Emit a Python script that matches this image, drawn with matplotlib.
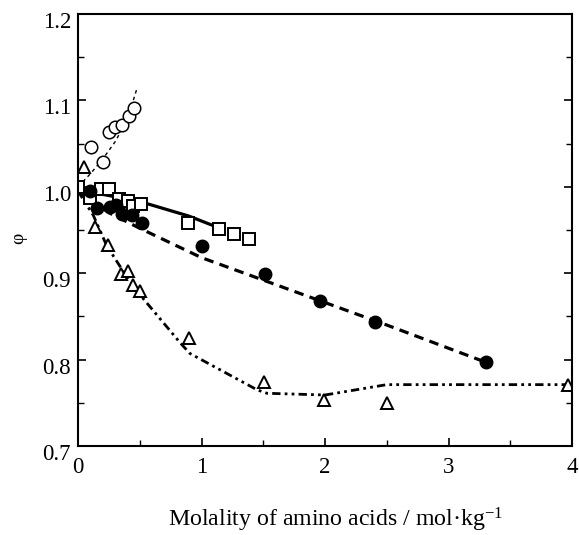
import matplotlib
matplotlib.use("Agg")
import matplotlib.pyplot as plt
import matplotlib.transforms as mtransforms
from matplotlib.ticker import MultipleLocator

plt.rcParams['font.family'] = ['Liberation Serif', 'DejaVu Serif']
plt.rcParams['mathtext.fontset'] = 'custom'
plt.rcParams['mathtext.rm'] = 'Liberation Serif'
plt.rcParams['mathtext.it'] = 'Liberation Serif:italic'
plt.rcParams['mathtext.bf'] = 'Liberation Serif:bold'

# Open circles (dotted line)
oc_x = [0.103, 0.20, 0.253, 0.30, 0.354, 0.413, 0.456]
oc_y = [1.046, 1.029, 1.064, 1.069, 1.072, 1.082, 1.091]
oc_lx = [0.0, 0.1, 0.2, 0.3, 0.4, 0.48]
oc_ly = [1.0, 1.015, 1.032, 1.052, 1.078, 1.115]

# Open squares (solid line)
sq_x = [0.0, 0.097, 0.19, 0.253, 0.335, 0.408, 0.443, 0.51, 0.893, 1.144, 1.266, 1.385]
sq_y = [1.0, 0.987, 0.998, 0.998, 0.986, 0.983, 0.978, 0.980, 0.958, 0.951, 0.945, 0.939]
sq_lx = [0.0, 0.1, 0.5, 0.9, 1.15]
sq_ly = [1.0, 0.994, 0.983, 0.966, 0.952]

# Filled circles (dashed line)
fc_x = [0.097, 0.156, 0.26, 0.308, 0.354, 0.435, 0.516, 1.0, 1.514, 1.96, 2.405, 3.30]
fc_y = [0.995, 0.975, 0.977, 0.979, 0.969, 0.967, 0.958, 0.931, 0.899, 0.868, 0.843, 0.797]
fc_lx = [0.0, 0.25, 0.5, 1.0, 1.5, 2.0, 2.5, 3.3]
fc_ly = [0.995, 0.970, 0.952, 0.918, 0.892, 0.866, 0.840, 0.797]

# Open triangles (dash-dot-dot line)
tr_x = [0.049, 0.138, 0.246, 0.346, 0.402, 0.448, 0.502, 0.90, 1.506, 1.99, 2.50, 3.97]
tr_y = [1.023, 0.954, 0.933, 0.899, 0.902, 0.886, 0.879, 0.825, 0.774, 0.753, 0.750, 0.771]
tr_lx = [0.0, 0.124, 0.232, 0.367, 0.502, 0.83, 0.907, 1.45, 1.53, 2.0, 2.5, 4.0]
tr_ly = [0.995, 0.967, 0.932, 0.902, 0.875, 0.819, 0.807, 0.765, 0.761, 0.759, 0.771, 0.771]

x_ticks = [0, 1, 2, 3, 4]
x_ticklabels = ['0', '1', '2', '3', '4']
y_ticks = [0.7, 0.8, 0.9, 1.0, 1.1, 1.2]
y_ticklabels = ['0.7', '0.8', '0.9', '1.0', '1.1', '1.2']

fig = plt.figure(figsize=(5.79, 5.35), dpi=100)
ax = fig.add_axes([0.1347, 0.1664, 0.8533, 0.8074])

ax.plot(oc_lx, oc_ly, color='black', lw=1.0, linestyle=(0, (2.5, 2.5)))
ax.plot(sq_lx, sq_ly, color='black', lw=2.3, linestyle='-')
ax.plot(fc_lx, fc_ly, color='black', lw=2.3, linestyle=(0, (3, 2)))
ax.plot(tr_lx, tr_ly, color='black', lw=2.0, linestyle=(0, (3, 1.5, 1, 1.5, 1, 1.5)))

ax.plot(oc_x, oc_y, 'o', ms=9, mfc='white', mec='black', mew=1.1, ls='none')
ax.plot(sq_x, sq_y, 's', ms=9, mfc='white', mec='black', mew=1.4, ls='none')
ax.plot(fc_x, fc_y, 'o', ms=9, mfc='black', mec='black', ls='none')
ax.plot(tr_x, tr_y, '^', ms=8.5, mfc='white', mec='black', mew=1.4, ls='none')

ax.set_xlim(0, 4)
ax.set_ylim(0.7, 1.2)
ax.set_xticks(x_ticks)
ax.set_xticklabels(x_ticklabels)
ax.set_yticks(y_ticks)
ax.set_yticklabels(y_ticklabels)
ax.xaxis.set_minor_locator(MultipleLocator(0.5))
ax.yaxis.set_minor_locator(MultipleLocator(0.05))
ax.tick_params(which='both', direction='in', right=True, top=False, labelsize=16.5)
ax.tick_params(which='major', length=6, width=1.2)
ax.tick_params(which='minor', length=4, width=1.0)
ax.tick_params(axis='x', which='major', pad=8)
ax.tick_params(axis='y', which='major', pad=5)
for s in ax.spines.values():
    s.set_linewidth(1.5)

# reference y tick labels sit slightly below their ticks
offset = mtransforms.ScaledTranslation(0, -6 / 100, fig.dpi_scale_trans)
for lbl in ax.get_yticklabels():
    lbl.set_transform(lbl.get_transform() + offset)

ax.set_xlabel('Molality of amino acids / mol·kg$^{-1}$', fontsize=17.2)
ax.xaxis.set_label_coords(0.522, -0.138)
ax.set_ylabel('φ', fontsize=14)
ax.yaxis.label.set_va('center')
ax.yaxis.set_label_coords(-0.119, 0.481)

fig.savefig('out.png', dpi=100)
